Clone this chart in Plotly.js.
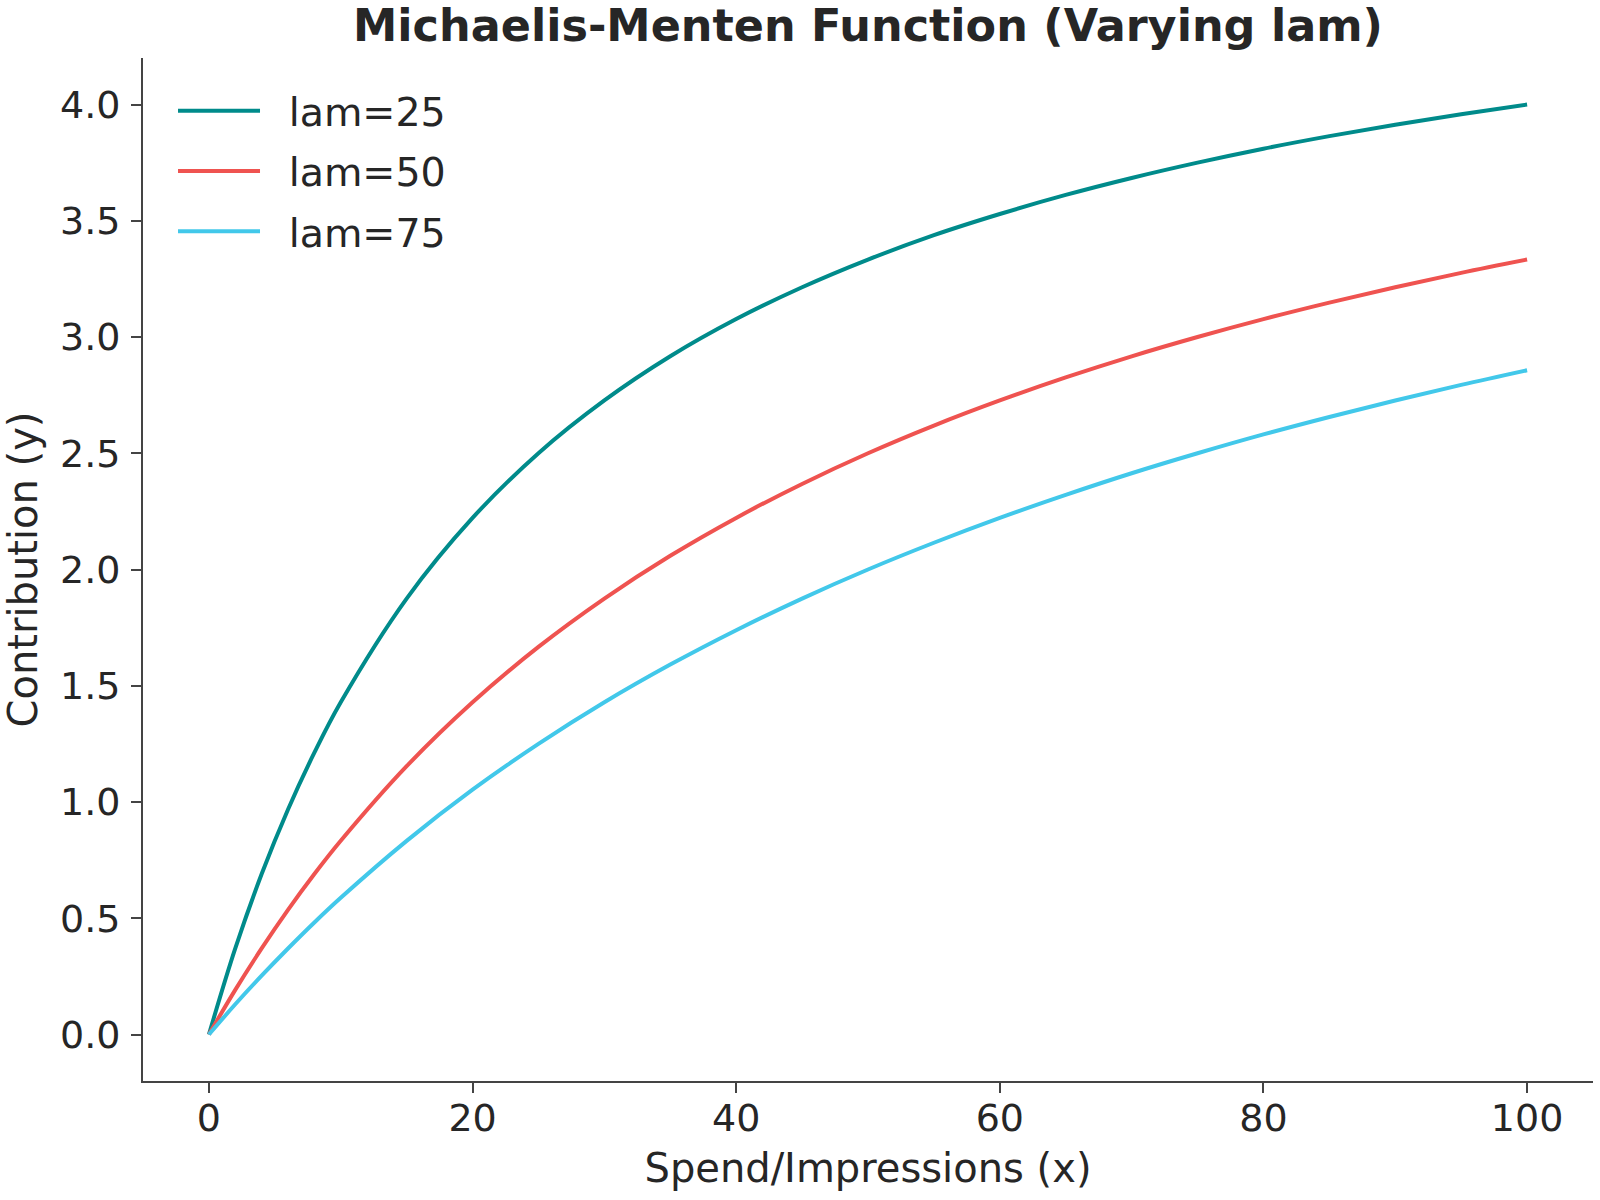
<!DOCTYPE html>
<html>
<head>
<meta charset="utf-8">
<script src="https://cdn.plot.ly/plotly-3.0.1.min.js"></script>
<style>
  html, body { margin: 0; padding: 0; background: #fff; }
  #chart { width: 1600px; height: 1200px; }
</style>
</head>
<body>
<div id="chart"></div>
<script>
// values
const spend = [0, 2, 4, 6, 8, 10, 15, 20, 25, 30, 35, 40, 45, 50, 55, 60, 65, 70, 75, 80, 85, 90, 95, 100];

const lam25 = [0, 0.370, 0.690, 0.968, 1.212, 1.429, 1.875, 2.222, 2.500, 2.727, 2.917, 3.077,
  3.214, 3.333, 3.438, 3.529, 3.611, 3.684, 3.750, 3.810, 3.864, 3.913, 3.958, 4.000];
const lam50 = [0, 0.192, 0.370, 0.536, 0.690, 0.833, 1.154, 1.429, 1.667, 1.875, 2.059, 2.222,
  2.368, 2.500, 2.619, 2.727, 2.826, 2.917, 3.000, 3.077, 3.148, 3.214, 3.276, 3.333];
const lam75 = [0, 0.130, 0.253, 0.370, 0.482, 0.588, 0.833, 1.053, 1.250, 1.429, 1.591, 1.739,
  1.875, 2.000, 2.115, 2.222, 2.321, 2.414, 2.500, 2.581, 2.656, 2.727, 2.794, 2.857];

const seriesNames = ["lam=25", "lam=50", "lam=75"];
const seriesColors = ["#008b8b", "#ef5350", "#42c8ea"];

const traces = [lam25, lam50, lam75].map((ys, i) => ({
  x: spend,
  y: ys,
  type: "scatter",
  mode: "lines",
  // leading spaces keep the gap between legend line and label
  name: "\u2002\u200a" + seriesNames[i],
  legendgroup: seriesNames[i],
  line: { color: seriesColors[i], width: 4, shape: "spline" },
}));

const font = { family: "DejaVu Sans", size: 38, color: "#262626" };
const labelFont = { family: "DejaVu Sans", size: 40, color: "#262626" };

const layout = {
  width: 1600,
  height: 1200,
  margin: { l: 143, r: 7, t: 58, b: 119 },
  paper_bgcolor: "#fff",
  plot_bgcolor: "#fff",
  font: font,
  title: {
    text: "<b>Michaelis-Menten Function (Varying lam)</b>",
    font: { family: "DejaVu Sans", size: 44.5, color: "#262626" },
    xref: "paper",
    x: 0.5,
    yref: "container",
    y: 0.979,
    yanchor: "middle",
  },
  xaxis: {
    range: [-5, 105],
    tickvals: [0, 20, 40, 60, 80, 100],
    ticks: "outside",
    ticklen: 10,
    tickwidth: 2,
    tickcolor: "#444",
    showline: true,
    linecolor: "#444",
    linewidth: 2,
    showgrid: false,
    zeroline: false,
    ticklabelstandoff: -8,
    title: { text: "Spend/Impressions (x)", font: labelFont, standoff: 15 },
  },
  yaxis: {
    range: [-0.2, 4.2],
    tickvals: [0, 0.5, 1, 1.5, 2, 2.5, 3, 3.5, 4],
    tickformat: ".1f",
    ticks: "outside",
    ticklen: 10,
    tickwidth: 2,
    tickcolor: "#444",
    showline: true,
    linecolor: "#444",
    linewidth: 2,
    showgrid: false,
    zeroline: false,
    ticklabelstandoff: 3,
    title: { text: "Contribution (y)", font: labelFont, standoff: 13 },
  },
  legend: {
    x: 0.0207,
    y: 0.98,
    xanchor: "left",
    yanchor: "top",
    bgcolor: "rgba(255,255,255,0)",
    font: { family: "DejaVu Sans", size: 39.5, color: "#262626" },
    traceorder: "grouped",
    tracegroupgap: 6,
    itemwidth: 82,
  },
  showlegend: true,
};

Plotly.newPlot("chart", traces, layout, { displayModeBar: false, staticPlot: true });
</script>
</body>
</html>
